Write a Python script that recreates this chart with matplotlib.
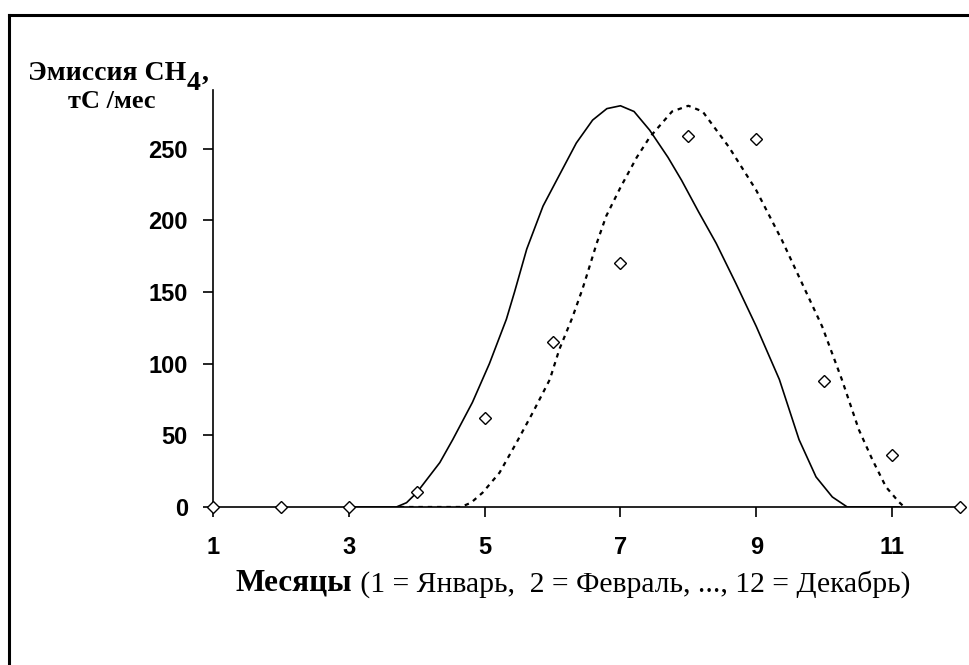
import numpy as np
import matplotlib
matplotlib.use("Agg")
import matplotlib.pyplot as plt
from matplotlib.lines import Line2D

# observed monthly emission (diamonds)
months = [1, 2, 3, 4, 5, 6, 7, 8, 9, 10, 11, 12]
observed = [0, 0, 0, 10.5, 62, 115, 170, 259, 257, 88, 36, 0]

# model curve 1 (solid)
solid_x = [3.0, 3.7, 3.85, 4.0, 4.34, 4.53, 4.82, 5.07, 5.32, 5.44, 5.62, 5.86,
           6.06, 6.35, 6.59, 6.8, 7.0, 7.2, 7.43, 7.7, 7.9, 8.15, 8.41, 8.7,
           9.0, 9.34, 9.63, 9.88, 10.12, 10.34, 11.1]
solid_y = [0, 0, 3, 10, 31, 47, 73, 100, 131, 150, 180, 210,
           228, 254, 270, 278, 280, 276, 263, 244, 228, 206, 184, 156,
           126, 89, 47, 21, 7, 0, 0]

# model curve 2 (dashed), shifted by one month
dashed_x = [3.75, 4.65, 4.8, 4.97, 5.22, 5.47, 5.71, 5.96, 6.1, 6.29, 6.44, 6.5,
            6.65, 6.79, 7.0, 7.24, 7.43, 7.76, 8.0, 8.21, 8.6, 9.0, 9.38, 9.97,
            10.26, 10.51, 10.71, 10.91, 11.1, 11.18]
dashed_y = [0, 0, 3, 10, 24, 45, 66, 89, 110, 132, 152, 161,
            184, 203, 223, 244, 258, 276, 280, 276, 251, 221, 186, 126,
            89, 54, 33, 14, 3.5, 0]

x_ticks = [1, 3, 5, 7, 9, 11]
y_ticks = [0, 50, 100, 150, 200, 250]

W, H = 969, 665
fig = plt.figure(figsize=(W / 100, H / 100), dpi=100)
fig.patch.set_facecolor("white")

# outer frame (left and top edges visible)
fig.add_artist(Line2D([9 / W, 9 / W], [0, 1 - 15 / H], transform=fig.transFigure,
                      color="black", lw=2.2))
fig.add_artist(Line2D([9 / W, 1], [1 - 15 / H, 1 - 15 / H], transform=fig.transFigure,
                      color="black", lw=2.2))

ax = fig.add_axes([213 / W, 1 - 507 / H, (960 - 213) / W, (507 - 90) / H])
ax.set_xlim(1, 12)
ax.set_ylim(0, 291)

ax.plot(solid_x, solid_y, color="black", lw=1.2)
ax.plot(dashed_x, dashed_y, color="black", lw=1.6, dashes=(2, 2.2))
ax.plot(months, observed, ls="none", marker="D", ms=6.5, mfc="white",
        mec="black", mew=1.0, clip_on=False, zorder=5)

for s in ["top", "right"]:
    ax.spines[s].set_visible(False)
for s in ["left", "bottom"]:
    ax.spines[s].set_linewidth(1.2)

ax.set_xticks(x_ticks)
ax.set_yticks(y_ticks)
ax.tick_params(direction="out", length=7, width=1.2, color="black")
ax.tick_params(axis="x", pad=14)
ax.tick_params(axis="y", pad=11)
for lab in ax.get_xticklabels() + ax.get_yticklabels():
    lab.set_fontfamily("Liberation Sans")
    lab.set_fontweight("bold")
    lab.set_fontsize(17)

# y axis title, top left
serif = "Liberation Serif"
t1 = fig.text(28 / W, 1 - 80 / H, "Эмиссия CH", family=serif, weight="bold",
              fontsize=20, va="baseline", ha="left")
t2 = ax.annotate("4", xy=(1, 0), xycoords=t1, xytext=(0, -7), textcoords="offset points",
                 family=serif, weight="bold", fontsize=20, va="bottom", ha="left")
ax.annotate(",", xy=(1, 0), xycoords=t2, xytext=(1, 7), textcoords="offset points",
            family=serif, weight="bold", fontsize=20, va="bottom", ha="left")
fig.text(112 / W, 1 - 108 / H, "тС /мес", family=serif, weight="bold",
         fontsize=19, va="baseline", ha="center")

# x axis title
x1 = fig.text(236 / W, 1 - 591 / H, "Месяцы", family=serif, weight="bold",
              fontsize=22.5, va="baseline", ha="left")
ax.annotate(" (1 = Январь,  2 = Февраль, ..., 12 = Декабрь)", xy=(1, 0), xycoords=x1,
            family=serif, fontsize=21.3, va="bottom", ha="left")

fig.savefig("out.png", dpi=100, facecolor="white")
